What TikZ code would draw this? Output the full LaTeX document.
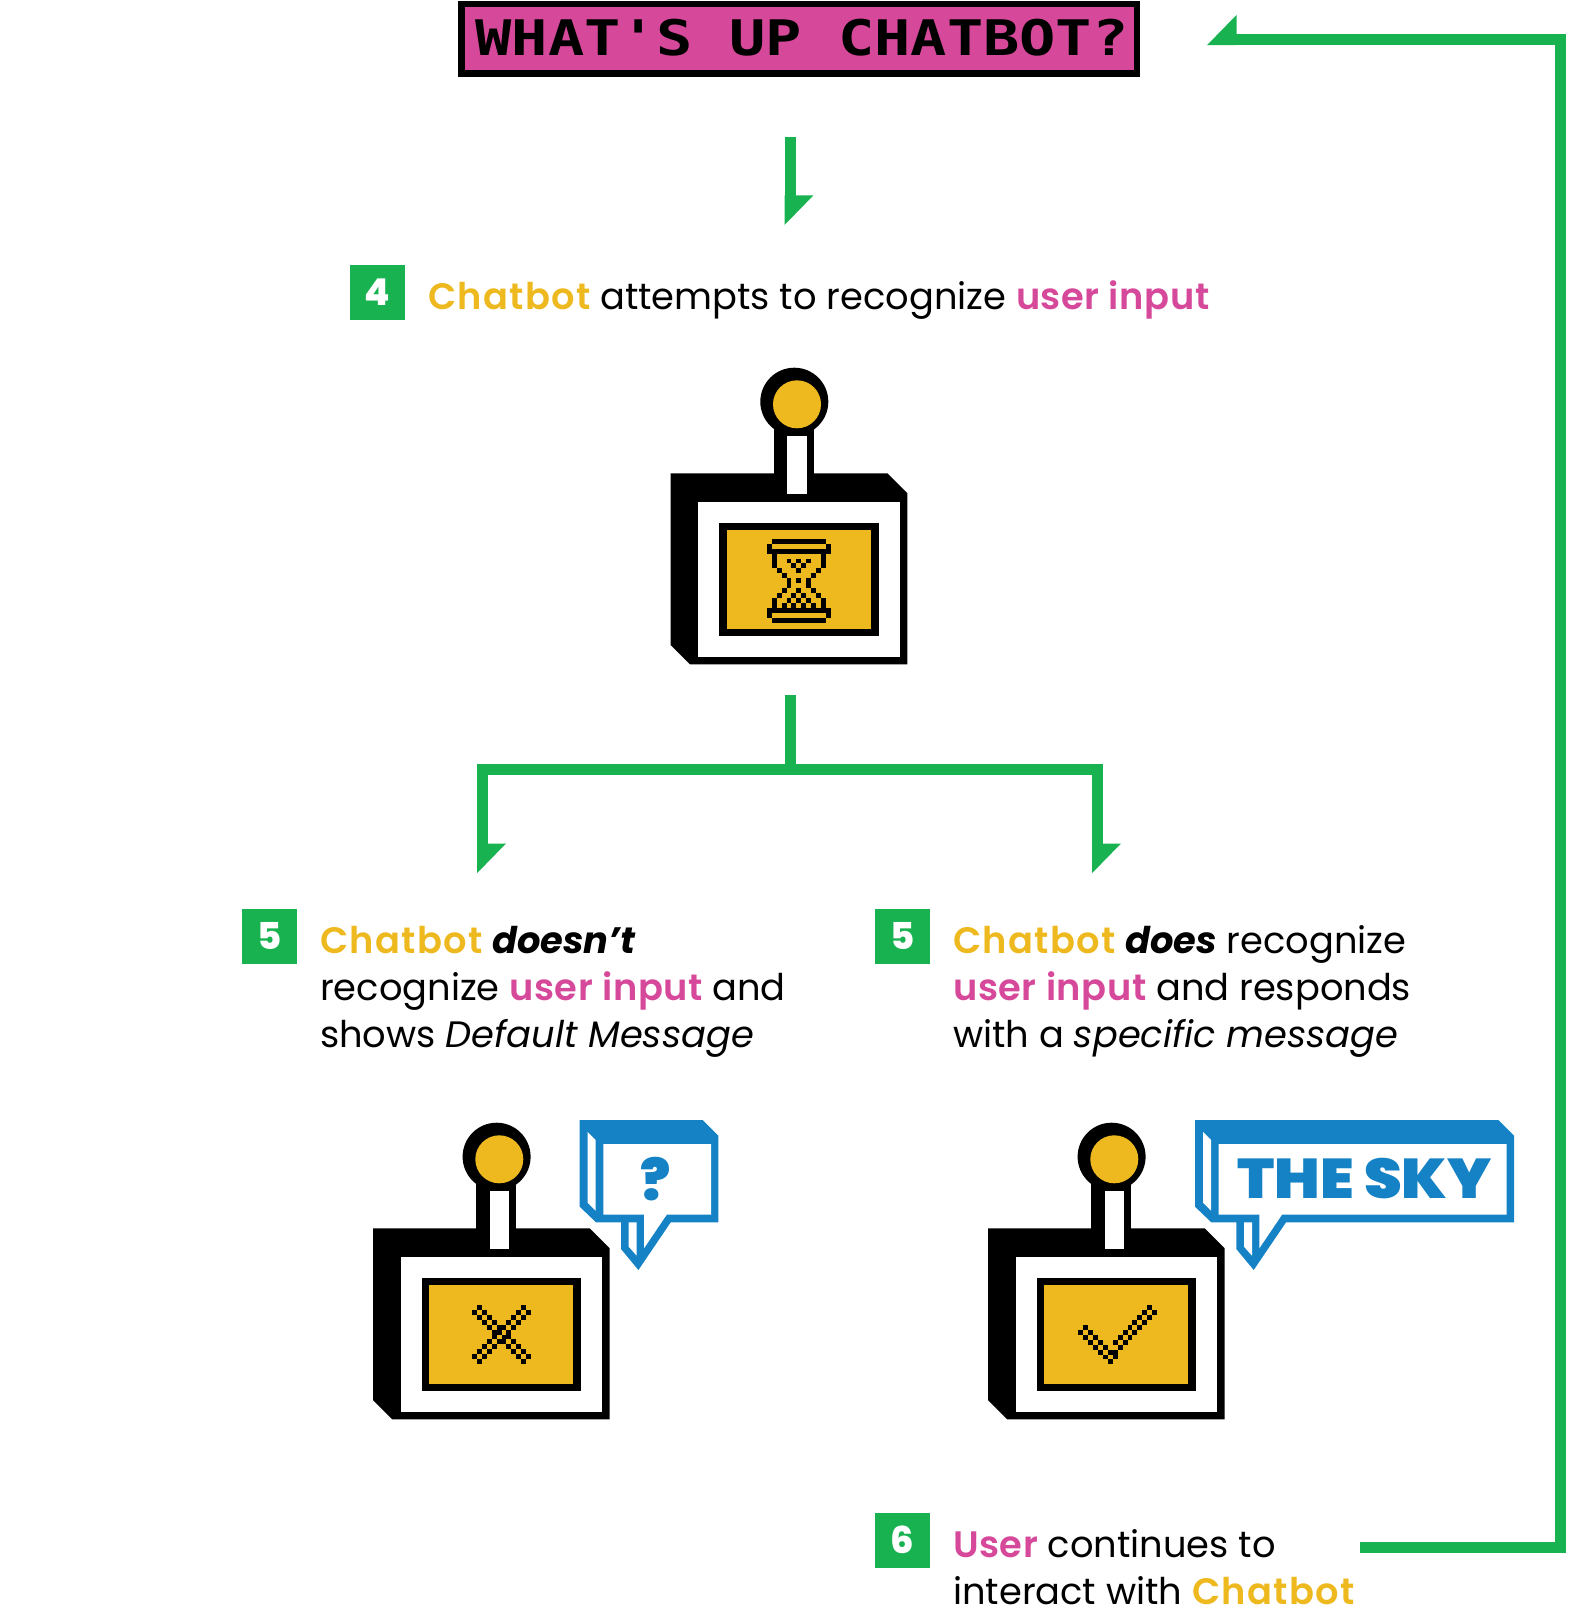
\documentclass[tikz,border=0pt]{standalone}
\usepackage{fontspec}
\setmainfont{Poppins}
\newfontfamily\heavyf{Poppins}[UprightFont=* ExtraBold]
\newfontfamily\blackf{Poppins}[UprightFont=* Black]
\newfontfamily\semif{Poppins}[UprightFont=* SemiBold,LetterSpace=3.5]
\newfontfamily\semiplain{Poppins}[UprightFont=* SemiBold,LetterSpace=1.5]
\newfontfamily\pixf{DejaVu Sans Mono}[UprightFont=* Bold]
\definecolor{cpink}{HTML}{D6489A}
\definecolor{cyel}{HTML}{EEB91E}
\definecolor{cgreen}{HTML}{18B350}
\definecolor{cblue}{HTML}{1482C5}
\newcommand{\chb}{{\semif\color{cyel}Chatbot}}
\newcommand{\uin}{{\semiplain\color{cpink}user input}}
\tikzset{
  bodytext/.style={font=\fontsize{36.8}{47}\selectfont,align=left,inner sep=0pt,anchor=base west},
  numbox/.style={fill=cgreen,text=white,inner sep=0pt,minimum width=55pt,minimum height=55pt,font=\heavyf\fontsize{37}{37}\selectfont},
  conn/.style={draw=cgreen,line width=11pt,line cap=butt,line join=miter},
  bubbletext/.style={text=cblue,inner sep=0pt,font=\blackf\fontsize{56}{56}\selectfont},
}
\newcommand{\downhead}[1]{\fill[cgreen,shift={(#1)}] (-5.5,-0.5) -- (23.3,-0.5) -- (-5.5,29) -- cycle;}
\newcommand{\botbody}[1]{%
  \begin{scope}[shift={(#1)}]
    \fill[black] (0,0) -- (216.6,0) -- (236.6,20) -- (236.6,191) -- (19.3,191) -- (0,171.7) -- cycle;
    \fill[black] (103.3,-45) rectangle (143.3,10);
    \fill[white] (27.6,28.7) rectangle (229,183.7);
    \fill[black] (48.6,49.4) rectangle (208,163);
    \fill[cyel] (56.3,57) rectangle (200.3,155.4);
    \fill[white] (116.6,-37.6) rectangle (136,21);
    \fill[black] (123.6,-71.6) circle (34);
    \fill[cyel] (126.3,-69) circle (24);
  \end{scope}}
\newcommand{\bubble}[2]{%
  \fill[cblue] (#1,1120) -- (#2-15.7,1120) -- (#2,1135.7) -- (#2,1222.3) -- (#1+91,1222.3) -- (#1+58.7,1270) -- (#1+41.3,1249) -- (#1+41.3,1222.3) -- (#1+16.3,1222.3) -- (#1,1206.7) -- cycle;
  \fill[white] (#1+23.7,1144) -- (#2-7.3,1144) -- (#2-7.3,1214.7) -- (#1+87,1214.7) -- (#1+64.3,1248.3) -- (#1+64.3,1214.7) -- (#1+23.7,1214.7) -- cycle;
  \fill[white] (#1+8,1132) -- (#1+16,1140) -- (#1+16,1210.7) -- (#1+8,1202.7) -- cycle;
  \fill[white] (#1+49,1222.3) -- (#1+57,1222.3) -- (#1+57,1255.7) -- (#1+49,1246.7) -- cycle;}
\newcommand{\pixels}[4]{\foreach \c/\r in {#4} {\fill[black] (#1+\c*#3,#2+\r*#3) rectangle +(#3,#3);}}
\begin{document}
\begin{tikzpicture}[x=1pt,y=-1pt]
\useasboundingbox (0,0) rectangle (1591,1608);
% banner
\node[draw=black,line width=6.5pt,fill=cpink,minimum width=675.5pt,minimum height=69.5pt,inner sep=0pt] (banner) at (799,39) {};
\node[inner sep=0pt,font=\pixf\fontsize{49}{49}\selectfont] (bannertext) at (802,38) {\scalebox{1.23}[1]{WHAT'S UP CHATBOT?}};
% connectors
\coordinate (a1s) at (790,137);
\coordinate (a1e) at (790,196);
\draw[conn] (a1s) -- (a1e);
\downhead{a1e}
\coordinate (b0) at (790,695);
\coordinate (bm) at (790,769.7);
\coordinate (bl) at (482.7,844);
\coordinate (br) at (1097.7,844);
\draw[conn] (b0) -- (bm);
\draw[conn] (bl) |- (bm) -| (br);
\downhead{bl}
\downhead{br}
\coordinate (c0) at (1360,1547);
\coordinate (c1) at (1560.5,1547);
\coordinate (c2) at (1560.5,39.7);
\coordinate (c3) at (1236,39.7);
\draw[conn] (c0) -- (c1) -- (c2) -- (c3);
\fill[cgreen] (1236.5,15) -- (1236.5,45.2) -- (1207,45.2) -- cycle;
% steps
\node[numbox] (n4) at (377.5,292.5) {4};
\node[bodytext] (t4) at (428,309.5) {\chb{} attempts to recognize \uin};
\node[numbox] (n5a) at (269.5,936) {5};
\node[bodytext] (t5a) at (320,1047) {\chb{} {\bfseries\itshape doesn’t}\\recognize \uin{} and\\shows {\itshape Default Message}};
\node[numbox] (n5b) at (902.5,936) {5};
\node[bodytext] (t5b) at (953,1047) {\chb{} {\bfseries\itshape does} recognize\\\uin{} and responds\\with a {\itshape specific message}};
\node[numbox] (n6) at (902.5,1540) {6};
\node[bodytext] (t6) at (953,1604) {{\semiplain\color{cpink}User} continues to\\interact with \chb};
% robots
\coordinate (r1) at (670.7,473.3);
\coordinate (r2) at (373,1228.3);
\coordinate (r3) at (988,1228.3);
\botbody{r1}
\botbody{r2}
\botbody{r3}
% hourglass
\pixels{766.7}{538.7}{4.95}{1/0,2/0,3/0,4/0,5/0,6/0,7/0,8/0,9/0,10/0,11/0,
0/1,12/1,
0/2,1/2,2/2,3/2,4/2,5/2,6/2,7/2,8/2,9/2,10/2,11/2,12/2,
1/3,11/3,
1/4,11/4,4/4,6/4,8/4,
1/5,11/5,5/5,7/5,
2/6,10/6,6/6,
3/7,9/7,
4/8,8/8,6/8,
4/9,8/9,
3/10,9/10,6/10,
2/11,10/11,5/11,7/11,
1/12,11/12,4/12,6/12,8/12,
1/13,11/13,3/13,5/13,7/13,9/13,
0/14,1/14,2/14,3/14,4/14,5/14,6/14,7/14,8/14,9/14,10/14,11/14,12/14,
0/15,12/15,
1/16,2/16,3/16,4/16,5/16,6/16,7/16,8/16,9/16,10/16,11/16}
% cross
\pixels{472}{1305}{4.92}{1/0,10/0,0/1,2/1,9/1,11/1,1/2,3/2,8/2,10/2,2/3,4/3,7/3,9/3,3/4,5/4,6/4,8/4,4/5,5/5,7/5,4/6,6/6,7/6,3/7,5/7,6/7,8/7,2/8,4/8,7/8,9/8,1/9,3/9,8/9,10/9,0/10,2/10,9/10,11/10,1/11,10/11}
% check
\pixels{1078}{1305}{4.95}{14/0,13/1,15/1,12/2,14/2,11/3,13/3,10/4,12/4,1/4,0/5,2/5,9/5,11/5,1/6,3/6,8/6,10/6,2/7,4/7,7/7,9/7,3/8,5/8,8/8,4/9,6/9,7/9,5/10,7/10,6/11}
% bubbles
\bubble{579.7}{718.3}
\node[bubbletext] (q) at (656,1179) {?};
\bubble{1195}{1514}
\node[bubbletext] (sky) at (1364.5,1179) {\scalebox{1.08}[1]{THE SKY}};
\end{tikzpicture}
\end{document}
